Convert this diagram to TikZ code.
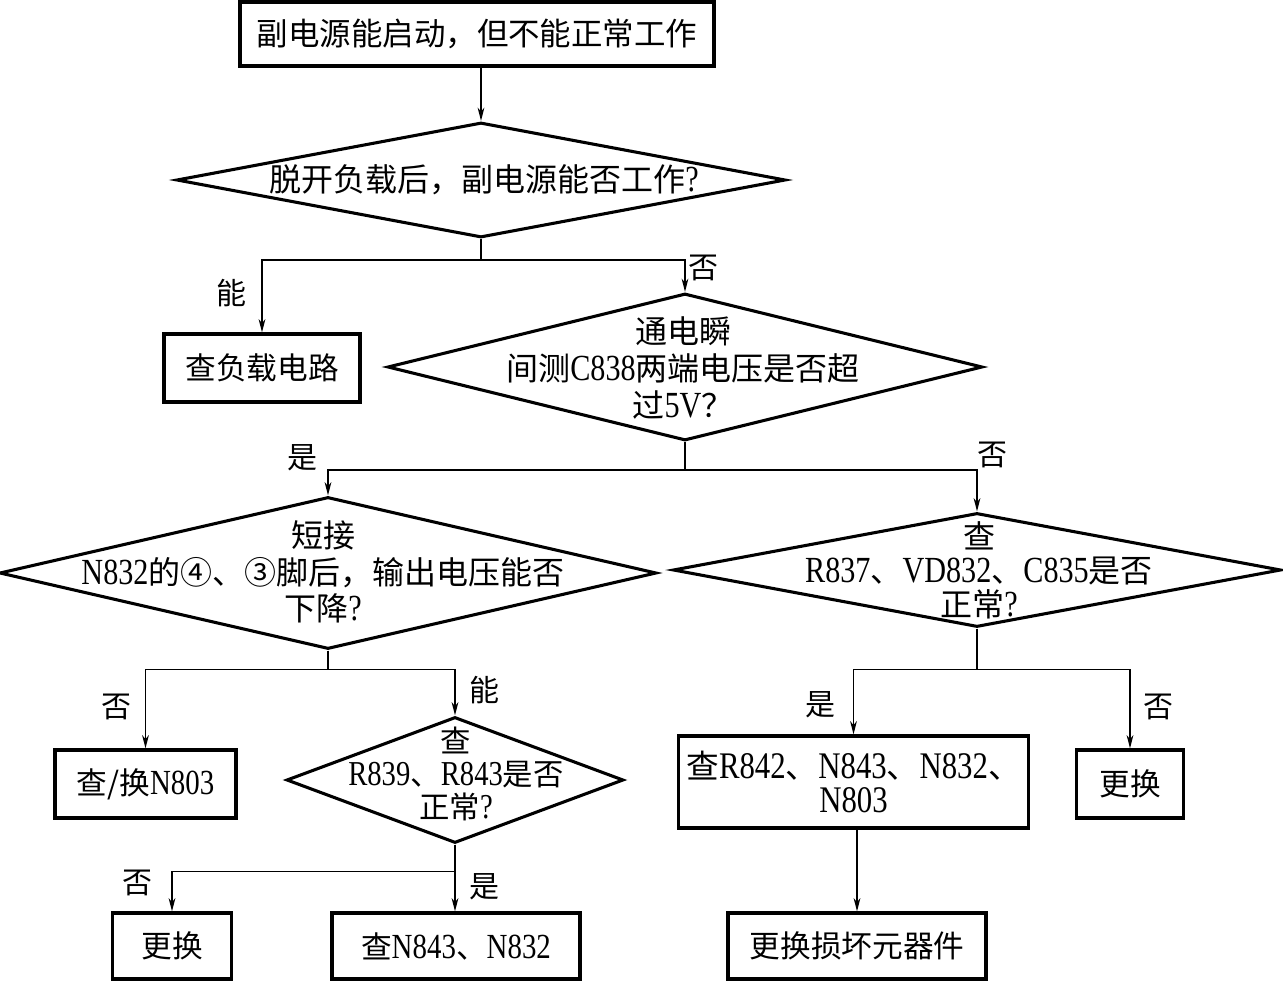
\documentclass[tikz,border=0pt]{standalone}
\usepackage{fontspec}
\setmainfont{Noto Sans CJK SC}
\newfontfamily\latinfont{Liberation Serif}[Scale=1.15,FakeStretch=0.82]
\newcommand\lat[1]{{\latinfont #1}}
\usetikzlibrary{shapes.geometric,arrows.meta}
\begin{document}
\begin{tikzpicture}[x=0.75pt,y=-0.75pt,
  boxnode/.style={draw,line width=2.3pt,inner sep=0pt,rectangle,font=\fontsize{23}{27}\selectfont,align=center},
  dianode/.style={draw,line width=2.3pt,inner sep=0pt,diamond},
  dtext/.style={align=center,inner sep=0pt},
  lbl/.style={inner sep=0pt,font=\fontsize{22.5}{26}\selectfont},
  arr/.style={line width=1.1pt,-{Stealth[length=10pt,width=5pt,inset=3pt]}},
  ln/.style={line width=1.1pt}]
\useasboundingbox (0,0) rectangle (1283,981);

% boxes
\node[boxnode,minimum width=474*0.75pt,minimum height=64*0.75pt,font=\fontsize{23.6}{28}\selectfont] (top) at (477,34) {副电源能启动，但不能正常工作};
\node[boxnode,minimum width=196*0.75pt,minimum height=68*0.75pt] (b1) at (262,368) {查负载电路};
\node[boxnode,minimum width=181*0.75pt,minimum height=68*0.75pt] (b2) at (145.5,784) {查/换\lat{N803}};
\node[boxnode,minimum width=119*0.75pt,minimum height=66*0.75pt] (b3) at (172,946) {更换};
\node[boxnode,minimum width=248*0.75pt,minimum height=66*0.75pt] (b4) at (456,946) {查\lat{N843}、\lat{N832}};
\node[boxnode,minimum width=350*0.75pt,minimum height=92*0.75pt,font=\fontsize{24.5}{25.5}\selectfont] (b5) at (853.5,782) {查\lat{R842}、\lat{N843}、\lat{N832}、\\\lat{N803}};
\node[boxnode,minimum width=107*0.75pt,minimum height=68*0.75pt] (b6) at (1130,784) {更换};
\node[boxnode,minimum width=258*0.75pt,minimum height=66*0.75pt] (b7) at (857,946) {更换损坏元器件};

% diamonds
\node[dianode,minimum width=609*0.75pt,minimum height=115*0.75pt] (d1) at (481,180) {};
\node[dtext,font=\fontsize{24}{28}\selectfont] (t1) at (484,180) {脱开负载后，副电源能否工作\lat{?}};
\node[dianode,minimum width=595*0.75pt,minimum height=147*0.75pt] (d2) at (685,367) {};
\node[dtext,font=\fontsize{24}{28}\selectfont] (t2) at (683,368) {通电瞬\\间测\lat{C838}两端电压是否超\\过\lat{5V}？};
\node[dianode,minimum width=657*0.75pt,minimum height=152*0.75pt] (d3) at (328,573) {};
\node[dtext,font=\fontsize{24}{27.4}\selectfont] (t3) at (323,572) {短接\\\lat{N832}的④、③脚后，输出电压能否\\下降\lat{?}};
\node[dianode,minimum width=608*0.75pt,minimum height=114*0.75pt] (d4) at (977,570) {};
\node[dtext,font=\fontsize{24}{25.5}\selectfont] (t4) at (979,570) {查\\\lat{R837}、\lat{VD832}、\lat{C835}是否\\正常\lat{?}};
\node[dianode,minimum width=337*0.75pt,minimum height=126*0.75pt] (d5) at (455,780) {};
\node[dtext,font=\fontsize{22.8}{25}\selectfont] (t5) at (456,774) {查\\\lat{R839}、\lat{R843}是否\\正常\lat{?}};

% connectors
\draw[arr] (d1.north |- top.south) -- (d1.north);
\draw[arr] (d1.south) -- ++(0,21) -| (b1.north);
\draw[arr] (d1.south) -- ++(0,21) -| (d2.north);
\draw[arr] (d2.south) -- ++(0,28) -| (d3.north);
\draw[arr] (d2.south) -- ++(0,28) -| (d4.north);
\draw[arr] (d3.south) -- ++(0,19) -| (b2.north);
\draw[arr] (d3.south) -- ++(0,19) -| (d5.north);
\draw[arr] (d5.south) -- ++(0,27) -| (b3.north);
\draw[arr] (d5.south) -- (d5.south |- b4.north);
\draw[arr] (d4.south) -- ++(0,41) -| (b5.north);
\draw[arr] (d4.south) -- ++(0,41) -| (b6.north);
\draw[arr] (b5.south -| b7.north) -- (b7.north);

% labels
\node[lbl] (l1) at (231,293) {能};
\node[lbl] (l2) at (703,268) {否};
\node[lbl] (l3) at (302,458) {是};
\node[lbl] (l4) at (992,455) {否};
\node[lbl] (l5) at (116,707) {否};
\node[lbl] (l6) at (484,690) {能};
\node[lbl] (l7) at (137,883) {否};
\node[lbl] (l8) at (484,887) {是};
\node[lbl] (l9) at (820,705) {是};
\node[lbl] (l10) at (1158,707) {否};
\end{tikzpicture}
\end{document}
